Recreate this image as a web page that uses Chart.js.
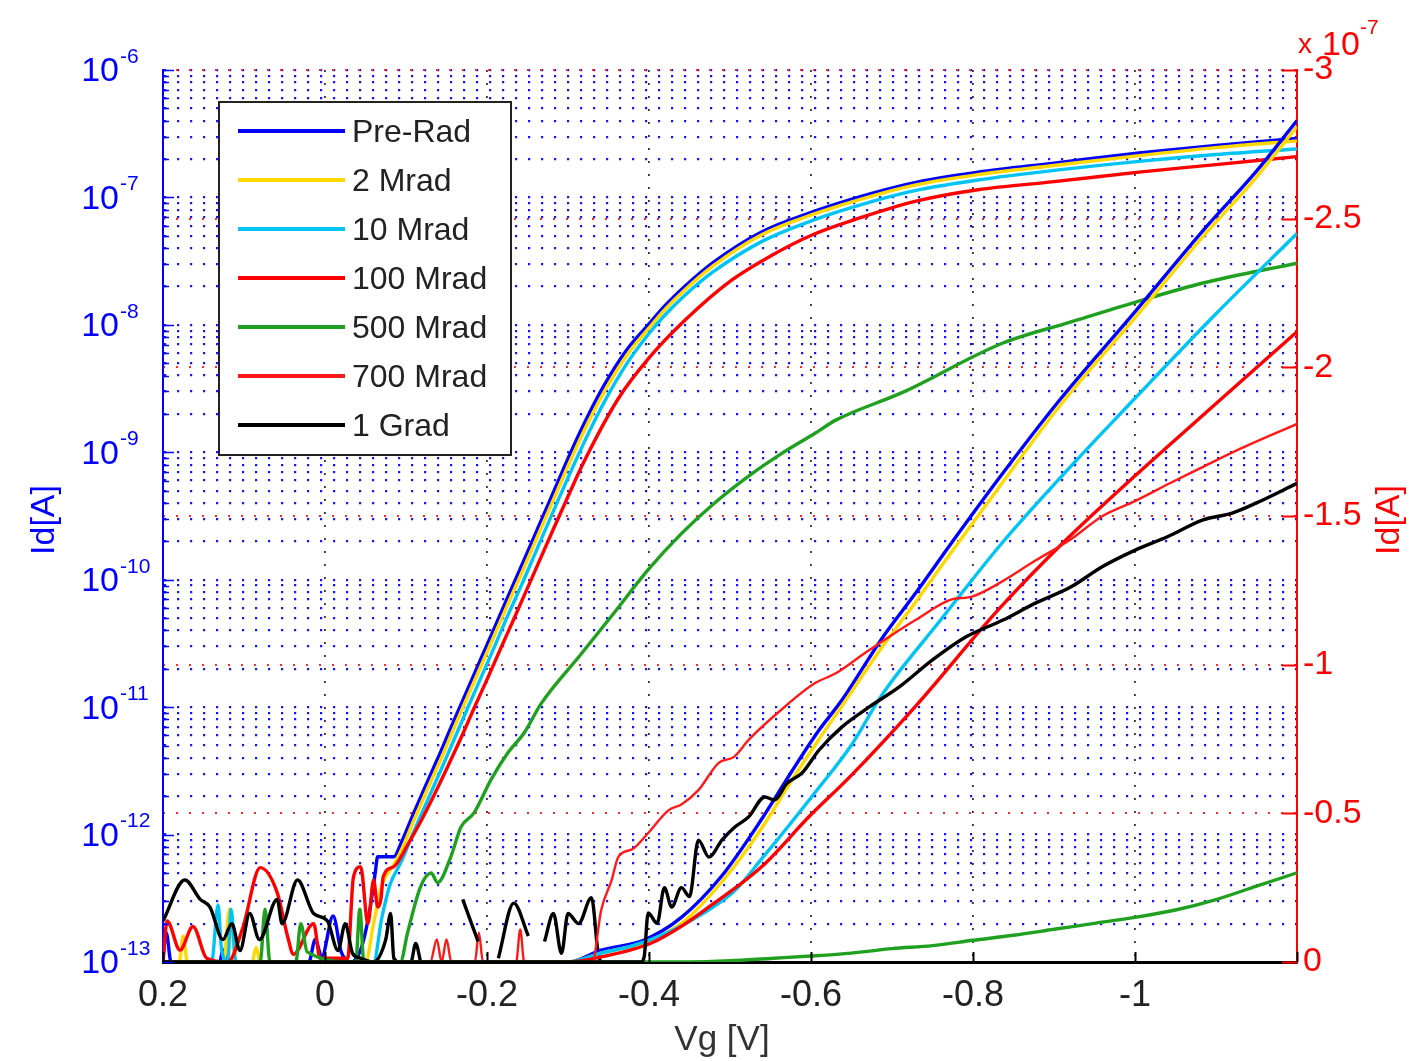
<!DOCTYPE html>
<html>
<head>
  <meta charset="UTF-8">
  <title>Id-Vg</title>
  <script src="https://cdn.jsdelivr.net/npm/chart.js"></script>
  <style>
    html, body { margin: 0; padding: 0; background: #fff; }
    #wrap { width: 1416px; height: 1061px; }
  </style>
</head>
<body>
  <div id="wrap">
    <canvas id="myChart"></canvas>
  </div>
  <script>
    // doses, one legend entry each
    const doseLabels = ['Pre-Rad', '2 Mrad', '10 Mrad', '100 Mrad', '500 Mrad', '700 Mrad', '1 Grad'];

    // axis ticks
    const vgTicks = [0.2, 0, -0.2, -0.4, -0.6, -0.8, -1.0, -1.2];
    const idLogRange = [1e-13, 1e-6];
    const idLinTicks = [-3, -2.5, -2, -1.5, -1, -0.5, 0];   // x 1e-7 A

    // log curves (left axis): [Vg (V), Id (A)]
    const preRadLog = [
      [0.200, 1.1e-13], [0.196, 1.7e-13], [0.190, 1.0e-13], [0.130, 1.0e-13], [0.126, 1.25e-13], [0.120, 1.0e-13],
      [0.020, 1.0e-13], [0.012, 1.5e-13], [0.004, 1.1e-13], [-0.010, 2.3e-13], [-0.020, 1.2e-13], [-0.032, 1.0e-13],
      [-0.045, 1.3e-13], [-0.055, 2.5e-13], [-0.062, 5.0e-13], [-0.065, 6.7e-13], [-0.085, 6.7e-13], [-0.094, 8.6e-13],
      [-0.110, 1.5e-12], [-0.127, 2.65e-12], [-0.143, 4.5e-12], [-0.159, 7.8e-12], [-0.176, 1.38e-11], [-0.193, 2.44e-11],
      [-0.209, 4.17e-11], [-0.226, 7.4e-11], [-0.242, 1.26e-10], [-0.263, 2.56e-10], [-0.284, 5.2e-10], [-0.304, 1.02e-9],
      [-0.325, 1.95e-9], [-0.345, 3.39e-9], [-0.372, 6.3e-9], [-0.399, 1.0e-8], [-0.420, 1.42e-8], [-0.444, 2.0e-8],
      [-0.479, 3.08e-8], [-0.539, 5.36e-8], [-0.602, 7.7e-8], [-0.676, 1.08e-7], [-0.731, 1.32e-7], [-0.806, 1.58e-7],
      [-0.900, 1.86e-7], [-1.005, 2.23e-7], [-1.100, 2.56e-7], [-1.200, 2.9e-7]
    ];
    const mrad2Log = [
      [0.200, 1.0e-13], [0.180, 1.0e-13], [0.175, 1.6e-13], [0.170, 1.0e-13], [0.125, 1.0e-13], [0.118, 2.6e-13],
      [0.110, 1.0e-13], [0.090, 1.0e-13], [0.085, 1.3e-13], [0.080, 1.0e-13], [-0.050, 1.0e-13], [-0.060, 2.0e-13],
      [-0.070, 4.0e-13], [-0.085, 5.8e-13], [-0.094, 7.5e-13], [-0.110, 1.31e-12], [-0.127, 2.32e-12], [-0.143, 3.9e-12],
      [-0.159, 6.8e-12], [-0.176, 1.21e-11], [-0.193, 2.13e-11], [-0.209, 3.65e-11], [-0.226, 6.5e-11], [-0.242, 1.1e-10],
      [-0.263, 2.24e-10], [-0.284, 4.55e-10], [-0.304, 8.9e-10], [-0.325, 1.72e-9], [-0.345, 3.0e-9], [-0.372, 5.7e-9],
      [-0.399, 9.3e-9], [-0.420, 1.33e-8], [-0.444, 1.88e-8], [-0.479, 2.9e-8], [-0.539, 5.1e-8], [-0.602, 7.35e-8],
      [-0.676, 1.03e-7], [-0.731, 1.26e-7], [-0.806, 1.51e-7], [-0.900, 1.78e-7], [-1.005, 2.13e-7], [-1.100, 2.46e-7],
      [-1.200, 2.78e-7]
    ];
    const mrad10Log = [
      [0.200, 1.0e-13], [0.140, 1.0e-13], [0.132, 2.8e-13], [0.128, 1.3e-13], [0.120, 1.0e-13], [0.116, 2.6e-13],
      [0.110, 1.0e-13], [-0.060, 1.0e-13], [-0.070, 2.2e-13], [-0.080, 4.0e-13], [-0.094, 6.1e-13], [-0.110, 1.07e-12],
      [-0.127, 1.88e-12], [-0.143, 3.2e-12], [-0.159, 5.5e-12], [-0.176, 9.8e-12], [-0.193, 1.73e-11], [-0.209, 2.96e-11],
      [-0.226, 5.3e-11], [-0.242, 8.9e-11], [-0.263, 1.82e-10], [-0.284, 3.7e-10], [-0.304, 7.2e-10], [-0.325, 1.4e-9],
      [-0.345, 2.5e-9], [-0.372, 4.9e-9], [-0.399, 8.4e-9], [-0.420, 1.2e-8], [-0.444, 1.7e-8], [-0.479, 2.6e-8],
      [-0.539, 4.5e-8], [-0.602, 6.6e-8], [-0.676, 9.3e-8], [-0.731, 1.14e-7], [-0.806, 1.37e-7], [-0.900, 1.63e-7],
      [-1.005, 1.92e-7], [-1.100, 2.17e-7], [-1.200, 2.4e-7]
    ];
    const mrad100Log = [
      [0.200, 1.0e-13], [0.195, 2.1e-13], [0.179, 1.24e-13], [0.163, 1.9e-13], [0.146, 1.07e-13], [0.120, 1.0e-13],
      [0.101, 1.9e-13], [0.080, 5.5e-13], [0.059, 3.5e-13], [0.046, 1.57e-13], [0.039, 1.15e-13], [0.014, 2.0e-13],
      [0.006, 1.07e-13], [-0.028, 1.07e-13], [-0.035, 4.6e-13], [-0.044, 5.6e-13], [-0.053, 2.0e-13], [-0.060, 4.4e-13],
      [-0.065, 2.7e-13], [-0.069, 3.1e-13], [-0.072, 4.7e-13], [-0.085, 5.6e-13], [-0.102, 8.3e-13], [-0.118, 1.26e-12],
      [-0.134, 2.0e-12], [-0.152, 3.47e-12], [-0.168, 5.75e-12], [-0.184, 9.8e-12], [-0.201, 1.7e-11], [-0.217, 2.9e-11],
      [-0.233, 4.9e-11], [-0.251, 8.9e-11], [-0.282, 2.5e-10], [-0.300, 4.5e-10], [-0.320, 8.5e-10], [-0.362, 2.63e-9],
      [-0.399, 5.4e-9], [-0.444, 1.08e-8], [-0.502, 2.24e-8], [-0.550, 3.47e-8], [-0.602, 5.1e-8], [-0.660, 6.9e-8],
      [-0.731, 9.4e-8], [-0.806, 1.15e-7], [-0.900, 1.33e-7], [-1.005, 1.58e-7], [-1.100, 1.81e-7], [-1.200, 2.09e-7]
    ];
    const mrad500Log = [
      [0.200, 1.0e-13], [0.080, 1.0e-13], [0.074, 2.6e-13], [0.068, 1.0e-13], [0.036, 1.0e-13], [0.030, 2.0e-13],
      [0.022, 1.2e-13], [-0.038, 1.0e-13], [-0.043, 2.6e-13], [-0.048, 1.0e-13], [-0.093, 1.0e-13], [-0.102, 1.7e-13],
      [-0.118, 3.9e-13], [-0.131, 5.0e-13], [-0.139, 4.2e-13], [-0.155, 6.6e-13], [-0.168, 1.15e-12], [-0.184, 1.48e-12],
      [-0.205, 2.7e-12], [-0.226, 4.4e-12], [-0.246, 6.3e-12], [-0.267, 1.07e-11], [-0.316, 2.6e-11], [-0.357, 5.5e-11],
      [-0.399, 1.2e-10], [-0.440, 2.3e-10], [-0.481, 4.0e-10], [-0.523, 6.5e-10], [-0.564, 9.8e-10], [-0.605, 1.41e-9],
      [-0.630, 1.78e-9], [-0.713, 2.95e-9], [-0.837, 7.2e-9], [-0.920, 1.05e-8], [-1.001, 1.51e-8], [-1.084, 2.13e-8],
      [-1.200, 3.05e-8]
    ];
    const mrad700Log = [
      [0.200, 1.0e-13], [-0.130, 1.0e-13], [-0.138, 1.5e-13], [-0.144, 1.0e-13], [-0.150, 1.5e-13], [-0.156, 1.0e-13],
      [-0.185, 1.0e-13], [-0.190, 1.7e-13], [-0.195, 1.0e-13], [-0.236, 1.0e-13], [-0.241, 1.8e-13], [-0.246, 1.0e-13],
      [-0.330, 1.0e-13]
    ];
    const grad1Log = [
      [0.200, 2.1e-13], [0.173, 4.4e-13], [0.154, 3.1e-13], [0.142, 2.7e-13], [0.126, 1.5e-13], [0.115, 2.0e-13],
      [0.105, 1.23e-13], [0.093, 2.4e-13], [0.081, 1.5e-13], [0.059, 3.1e-13], [0.053, 2.0e-13], [0.034, 4.4e-13],
      [0.014, 2.4e-13], [-0.003, 2.1e-13], [-0.016, 1.23e-13], [-0.025, 2.0e-13], [-0.034, 1.17e-13], [-0.044, 1.07e-13],
      [-0.060, 1.0e-13], [-0.075, 1.5e-13], [-0.081, 2.4e-13], [-0.085, 1.07e-13], [-0.092, 1.0e-13], [-0.106, 1.0e-13],
      [-0.112, 1.4e-13], [-0.118, 1.0e-13], [-0.140, null], [-0.170, 3.1e-13], [-0.189, 1.45e-13], [-0.200, null],
      [-0.214, 1.07e-13], [-0.233, 2.9e-13], [-0.251, 1.6e-13], [-0.260, null], [-0.271, 1.45e-13], [-0.282, 2.4e-13],
      [-0.292, 1.17e-13], [-0.300, 2.4e-13], [-0.313, 2.0e-13], [-0.329, 3.2e-13], [-0.337, 1.2e-13], [-0.340, 1.0e-13]
    ];

    // linear curves (right axis): [Vg (V), Id (x 1e-7 A)]
    const preRadLin = [
      [0.200, 0], [-0.300, 0], [-0.341, -0.04], [-0.394, -0.074], [-0.440, -0.15], [-0.490, -0.29], [-0.539, -0.48],
      [-0.576, -0.64], [-0.610, -0.78], [-0.638, -0.88], [-0.688, -1.09], [-0.729, -1.24], [-0.771, -1.40],
      [-0.833, -1.63], [-0.907, -1.89], [-1.001, -2.19], [-1.084, -2.46], [-1.150, -2.66], [-1.200, -2.83]
    ];
    const mrad2Lin = [
      [0.200, 0], [-0.300, 0], [-0.341, -0.03], [-0.394, -0.065], [-0.440, -0.13], [-0.490, -0.27], [-0.539, -0.45],
      [-0.576, -0.61], [-0.610, -0.75], [-0.638, -0.86], [-0.688, -1.06], [-0.729, -1.21], [-0.771, -1.37],
      [-0.833, -1.60], [-0.907, -1.87], [-1.001, -2.17], [-1.084, -2.44], [-1.150, -2.64], [-1.200, -2.81]
    ];
    const mrad10Lin = [
      [0.200, 0], [-0.300, 0], [-0.341, -0.03], [-0.380, -0.055], [-0.424, -0.10], [-0.465, -0.16], [-0.506, -0.24],
      [-0.540, -0.35], [-0.573, -0.46], [-0.605, -0.57], [-0.650, -0.73], [-0.688, -0.90], [-0.760, -1.15],
      [-0.833, -1.40], [-0.915, -1.65], [-0.998, -1.89], [-1.100, -2.18], [-1.200, -2.45]
    ];
    const mrad100Lin = [
      [0.200, 0], [-0.300, 0], [-0.341, -0.017], [-0.403, -0.064], [-0.440, -0.12], [-0.474, -0.185], [-0.539, -0.32],
      [-0.598, -0.49], [-0.647, -0.62], [-0.729, -0.86], [-0.833, -1.19], [-0.915, -1.42], [-0.998, -1.63],
      [-1.105, -1.89], [-1.200, -2.12]
    ];
    const mrad500Lin = [
      [0.200, 0], [-0.450, 0], [-0.500, -0.004], [-0.550, -0.012], [-0.600, -0.02], [-0.650, -0.03], [-0.700, -0.045],
      [-0.750, -0.055], [-0.800, -0.073], [-0.850, -0.09], [-0.900, -0.11], [-0.950, -0.13], [-1.000, -0.15],
      [-1.050, -0.175], [-1.100, -0.21], [-1.150, -0.255], [-1.200, -0.30]
    ];
    const mrad700Lin = [
      [0.200, 0], [-0.330, 0], [-0.341, -0.175], [-0.354, -0.276], [-0.362, -0.353], [-0.380, -0.38], [-0.399, -0.434],
      [-0.424, -0.51], [-0.440, -0.53], [-0.461, -0.578], [-0.486, -0.67], [-0.505, -0.69], [-0.523, -0.747],
      [-0.564, -0.85], [-0.605, -0.938], [-0.630, -0.97], [-0.667, -1.04], [-0.700, -1.10], [-0.729, -1.15],
      [-0.771, -1.217], [-0.800, -1.23], [-0.833, -1.275], [-0.877, -1.35], [-0.920, -1.42], [-0.960, -1.50],
      [-1.000, -1.55], [-1.043, -1.61], [-1.080, -1.66], [-1.125, -1.72], [-1.200, -1.81]
    ];
    const grad1Lin = [
      [0.200, 0], [-0.390, 0], [-0.394, -0.017], [-0.399, -0.165], [-0.410, -0.13], [-0.419, -0.25], [-0.428, -0.185],
      [-0.440, -0.25], [-0.450, -0.22], [-0.461, -0.41], [-0.474, -0.353], [-0.490, -0.41], [-0.506, -0.454],
      [-0.523, -0.488], [-0.543, -0.555], [-0.555, -0.545], [-0.570, -0.60], [-0.589, -0.636], [-0.610, -0.713],
      [-0.638, -0.79], [-0.672, -0.858], [-0.709, -0.925], [-0.750, -1.016], [-0.791, -1.093], [-0.837, -1.15],
      [-0.877, -1.207], [-0.920, -1.26], [-0.960, -1.33], [-1.001, -1.386], [-1.040, -1.43], [-1.084, -1.487],
      [-1.120, -1.51], [-1.150, -1.544], [-1.200, -1.61]
    ];

    const doseColors = ['#0000ff', '#ffd800', '#00c4f4', '#ff0000', '#1fa01f', '#ff1a1a', '#000000'];
    const doseWidths = [3.4, 3.4, 3.4, 3.4, 3.4, 2.4, 3.4];
    const FONT = '"Liberation Sans", Arial, sans-serif';

    const logSeries = [preRadLog, mrad2Log, mrad10Log, mrad100Log, mrad500Log, mrad700Log, grad1Log];
    const linSeries = [preRadLin, mrad2Lin, mrad10Lin, mrad100Lin, mrad500Lin, mrad700Lin, grad1Lin];

    function makeSet(pairs, i, axis) {
      return {
        label: doseLabels[i],
        data: pairs.map(p => ({ x: p[0], y: p[1] })),
        yAxisID: axis,
        borderColor: doseColors[i],
        borderWidth: doseWidths[i],
        pointRadius: 0,
        fill: false,
        spanGaps: false,
        cubicInterpolationMode: 'monotone',
        borderJoinStyle: 'round'
      };
    }
    const datasets = [];
    logSeries.forEach((s, i) => datasets.push(makeSet(s, i, 'y')));
    linSeries.forEach((s, i) => datasets.push(makeSet(s, i, 'y2')));
    // later curves on top, like the original plot order
    datasets.forEach((d, k) => { d.order = 100 - k; });

    const isDecade = v => Math.abs(Math.log10(v) - Math.round(Math.log10(v))) < 1e-6;
    const near = (a, b) => Math.abs(a - b) < 1e-9;

    // axes decorations, log labels with exponent, legend box
    const decor = {
      id: 'decor',
      afterDatasetsDraw(chart) {
        const ctx = chart.ctx, a = chart.chartArea;
        const xs = chart.scales.x, ys = chart.scales.y, y2 = chart.scales.y2;
        ctx.save();

        // inward ticks
        ctx.lineWidth = 1.5;
        ctx.strokeStyle = '#0000ff';
        ys.ticks.forEach(t => {
          const py = Math.round(ys.getPixelForValue(t.value)) + 0.5;
          ctx.beginPath();
          ctx.moveTo(a.left, py);
          ctx.lineTo(a.left + (isDecade(t.value) ? 11 : 6), py);
          ctx.stroke();
        });
        ctx.strokeStyle = '#ff0000';
        ctx.lineWidth = 2;
        idLinTicks.forEach(v => {
          const py = Math.round(y2.getPixelForValue(v)) + 0.5;
          ctx.beginPath();
          ctx.moveTo(a.right, py);
          ctx.lineTo(a.right - 15, py);
          ctx.stroke();
        });
        ctx.strokeStyle = '#000';
        vgTicks.forEach(v => {
          const px = Math.round(xs.getPixelForValue(v)) + 0.5;
          ctx.beginPath();
          ctx.moveTo(px, a.bottom);
          ctx.lineTo(px, a.bottom - 10);
          ctx.stroke();
        });

        // left labels 10^n
        ctx.fillStyle = '#0000ff';
        ctx.textBaseline = 'middle';
        for (let e = Math.round(Math.log10(idLogRange[0])); e <= Math.round(Math.log10(idLogRange[1])); e++) {
          const py = ys.getPixelForValue(Math.pow(10, e));
          ctx.font = '34px ' + FONT;
          ctx.textAlign = 'right';
          ctx.fillText('10', 119, py + 2);
          ctx.font = '21px ' + FONT;
          ctx.textAlign = 'left';
          ctx.fillText(String(e), 120, py - 13);
        }

        // right axis multiplier
        ctx.fillStyle = '#ff0000';
        ctx.textBaseline = 'alphabetic';
        ctx.textAlign = 'left';
        ctx.font = '28px ' + FONT;
        ctx.fillText('x', 1298, 53);
        ctx.font = '34px ' + FONT;
        ctx.fillText('10', 1322, 55);
        ctx.font = '21px ' + FONT;
        ctx.fillText('-7', 1360, 34);

        // axis titles
        ctx.textAlign = 'center';
        ctx.textBaseline = 'middle';
        ctx.font = '35px ' + FONT;
        ctx.fillStyle = '#333';
        ctx.fillText('Vg [V]', 722, 1040);
        ctx.font = '34px ' + FONT;
        ctx.save();
        ctx.translate(45, 520);
        ctx.rotate(-Math.PI / 2);
        ctx.fillStyle = '#0000ff';
        ctx.fillText('Id[A]', 0, 0);
        ctx.restore();
        ctx.save();
        ctx.translate(1390, 520);
        ctx.rotate(-Math.PI / 2);
        ctx.fillStyle = '#ff0000';
        ctx.fillText('Id[A]', 0, 0);
        ctx.restore();

        // legend
        const lx = 219, ly = 102, lw = 292, lh = 353;
        ctx.fillStyle = '#fff';
        ctx.fillRect(lx, ly, lw, lh);
        ctx.strokeStyle = '#222';
        ctx.lineWidth = 2;
        ctx.strokeRect(lx, ly, lw, lh);
        ctx.textAlign = 'left';
        ctx.font = '32px ' + FONT;
        doseLabels.forEach((name, i) => {
          const yy = 131 + i * 49;
          ctx.strokeStyle = doseColors[i];
          ctx.lineWidth = 4;
          ctx.beginPath();
          ctx.moveTo(238, yy);
          ctx.lineTo(345, yy);
          ctx.stroke();
          ctx.fillStyle = '#222';
          ctx.fillText(name, 352, yy + 2);
        });
        ctx.restore();
      }
    };

    const config = {
      type: 'line',
      data: { datasets: datasets },
      options: {
        responsive: true,
        maintainAspectRatio: false,
        animation: false,
        events: [],
        layout: { padding: { top: 70, left: 0, right: 0, bottom: 0 } },
        plugins: { legend: { display: false }, tooltip: { enabled: false } },
        scales: {
          x: {
            type: 'linear',
            min: -1.2,
            max: 0.2,
            reverse: true,
            afterBuildTicks: s => { s.ticks = vgTicks.map(v => ({ value: v })); },
            afterFit: s => { s.height = 99; },
            ticks: {
              autoSkip: false,
              maxRotation: 0,
              padding: 12,
              color: '#222',
              font: { size: 36, family: FONT },
              callback: v => (near(v, -1.2) ? '' : String(Math.round(v * 10) / 10))
            },
            grid: {
              drawTicks: false,
              lineWidth: 1.8,
              color: c => (c.tick && (near(c.tick.value, 0.2) || near(c.tick.value, -1.2)) ? 'rgba(0,0,0,0)' : '#333')
            },
            border: { color: '#000', width: 3, dash: [2, 11] }
          },
          y: {
            type: 'logarithmic',
            position: 'left',
            min: idLogRange[0],
            max: idLogRange[1],
            afterBuildTicks: s => {
              const t = [];
              for (let e = -13; e < -6; e++) {
                for (let m = 1; m <= 9; m++) t.push({ value: m * Math.pow(10, e) });
              }
              t.push({ value: 1e-6 });
              s.ticks = t;
            },
            afterFit: s => { s.width = 163; },
            ticks: { display: false, autoSkip: false },
            grid: {
              drawTicks: false,
              lineWidth: 2.2,
              color: c => (c.tick && c.tick.value < 1.01e-13 ? 'rgba(0,0,0,0)' : '#1414ff')
            },
            border: { color: '#0000ff', width: 2, dash: [2.2, 10.8] }
          },
          y2: {
            type: 'linear',
            position: 'right',
            min: -3,
            max: 0,
            reverse: true,
            afterBuildTicks: s => { s.ticks = idLinTicks.map(v => ({ value: v })); },
            afterFit: s => { s.width = 119; },
            ticks: {
              autoSkip: false,
              padding: 6,
              color: '#ff0000',
              font: { size: 34, family: FONT },
              callback: v => String(Math.round(v * 10) / 10)
            },
            grid: {
              drawTicks: false,
              lineWidth: 2,
              color: c => (c.tick && near(c.tick.value, 0) ? 'rgba(0,0,0,0)' : '#ff2a2a')
            },
            border: { color: '#ff0000', width: 2, dash: [2, 11] }
          }
        }
      },
      plugins: [decor]
    };

    new Chart(document.getElementById('myChart'), config);
  </script>
</body>
</html>
